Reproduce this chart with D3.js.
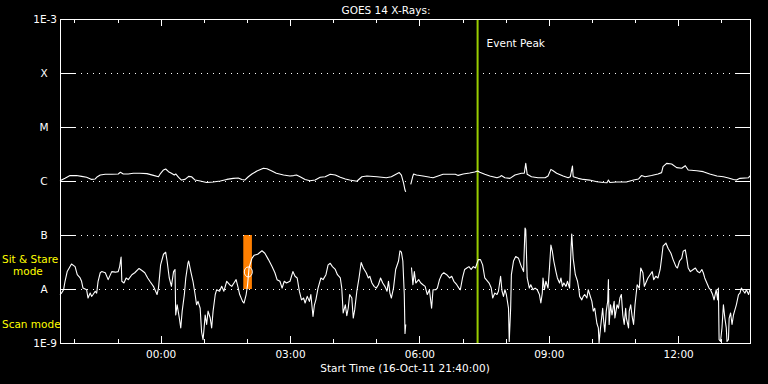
<!DOCTYPE html>
<html>
<head>
<meta charset="utf-8">
<script src="https://cdn.jsdelivr.net/npm/d3@7"></script>
<style>
  html, body { margin: 0; padding: 0; background: #000; }
  svg text { font-family: "DejaVu Sans", sans-serif; font-size: 10.5px; fill: #fff; }
</style>
</head>
<body>
<div id="output"></div>
<script>
// minutes after 16-Oct-11 21:40:00 UTC
const longTimes = [0, 7, 14, 23, 30, 37, 44, 49, 52, 56, 63, 72, 81, 84, 88, 95, 102, 111, 121, 130,
  137, 140, 144, 147, 151, 155, 159, 161, 165, 169, 174, 179, 183, 188, 195, 204, 213, 223, 232, 241,
  248, 253, 257, 262, 267, 274, 283, 288, 294, 301, 311, 320, 325, 329, 334, 341, 348, 355, 362, 369,
  376, 383, 390, 397, 403, 413, 420, 427, 441, 454, 461, 472, 475, 478, 480, 481, 485, 488, 491, 492,
  496, 505, 515, 519, 526, 533, 543, 550, 554, 561, 570, 577, 581, 584, 591, 598, 608, 612, 614, 619,
  626, 633, 642, 646, 648, 650, 656, 665, 675, 679, 683, 686, 691, 700, 707, 710, 713, 714, 721, 728,
  737, 747, 756, 761, 763, 765, 774, 788, 798, 805, 809, 814, 823, 832, 837, 839, 844, 851, 858, 865,
  870, 874, 886, 895, 904, 914, 923, 930, 937, 941, 946, 958, 960];
// 1-8 A flux, W/m2 (null = data gap)
const longFlux = [1.01e-6, 1.12e-6, 1.26e-6, 1.26e-6, 1.22e-6, 1.17e-6, 1.07e-6, 1.09e-6, 1.20e-6, 1.29e-6,
  1.33e-6, 1.33e-6, 1.35e-6, 1.45e-6, 1.35e-6, 1.35e-6, 1.39e-6, 1.39e-6, 1.37e-6, 1.27e-6,
  1.20e-6, 1.39e-6, 1.60e-6, 1.67e-6, 1.49e-6, 1.39e-6, 1.29e-6, 1.35e-6, 1.17e-6, 1.04e-6,
  1.07e-6, 1.22e-6, 1.20e-6, 1.04e-6, 1.00e-6, 0.94e-6, 0.96e-6, 1.00e-6, 1.07e-6, 1.12e-6,
  1.14e-6, 1.07e-6, 1.04e-6, 1.20e-6, 1.35e-6, 1.53e-6, 1.72e-6, 1.69e-6, 1.55e-6, 1.39e-6,
  1.29e-6, 1.24e-6, 1.26e-6, 1.29e-6, 1.20e-6, 1.07e-6, 1.01e-6, 1.04e-6, 1.17e-6, 1.20e-6,
  1.33e-6, 1.29e-6, 1.17e-6, 1.09e-6, 1.04e-6, 0.99e-6, 1.20e-6, 1.24e-6, 1.20e-6, 1.15e-6,
  1.20e-6, 1.43e-6, 1.29e-6, 0.91e-6, 0.68e-6, 0.63e-6, null, 0.87e-6, 1.24e-6, 1.35e-6,
  1.29e-6, 1.24e-6, 1.17e-6, 1.15e-6, 1.24e-6, 1.33e-6, 1.33e-6, 1.33e-6, 1.27e-6, 1.35e-6,
  1.41e-6, 1.47e-6, 1.53e-6, 1.45e-6, 1.33e-6, 1.24e-6, 1.15e-6, 1.20e-6, 1.26e-6, 1.15e-6,
  1.12e-6, 1.29e-6, 1.39e-6, 1.39e-6, 2.12e-6, 1.33e-6, 1.20e-6, 1.15e-6, 1.15e-6, 1.24e-6,
  1.64e-6, 1.55e-6, 1.39e-6, 1.24e-6, 1.15e-6, 1.20e-6, 1.90e-6, 1.20e-6, 1.12e-6, 1.07e-6,
  1.04e-6, 0.97e-6, 0.94e-6, 0.93e-6, 1.04e-6, 0.94e-6, 0.96e-6, 0.96e-6, 1.04e-6, 1.09e-6,
  1.26e-6, 1.20e-6, 1.26e-6, 1.35e-6, 1.43e-6, 1.84e-6, 2.12e-6, 2.06e-6, 1.77e-6, 1.72e-6,
  1.92e-6, 1.60e-6, 1.55e-6, 1.49e-6, 1.35e-6, 1.24e-6, 1.20e-6, 1.14e-6, 1.07e-6, 1.04e-6,
  1.12e-6, 1.15e-6, 1.24e-6];

const shortTimes = [0, 2, 5, 7, 10, 16, 21, 24, 28, 30, 32, 37, 39, 42, 44, 46, 49, 51, 53, 56,
  58, 63, 67, 72, 77, 81, 83, 85, 86, 89, 92, 95, 100, 104, 110, 114, 118, 122, 125, 130,
  135, 137, 140, 144, 147, 149, 152, 155, 158, 160, 161, 163, 166, 168, 170, 173, 175, 178, 179, 182,
  185, 188, 190, 192, 195, 197, 199, 200, 202, 204, 206, 209, 211, 213, 216, 218, 222, 225, 228, 232,
  236, 239, 242, 245, 248, 250, 254, 256, 259, 261, 263, 267, 270, 275, 281, 285, 290, 295, 299, 302,
  306, 309, 312, 315, 320, 324, 327, 330, 333, 336, 339, 341, 344, 347, 349, 352, 354, 356, 359, 363,
  366, 370, 373, 376, 379, 383, 386, 390, 392, 394, 397, 399, 401, 403, 406, 408, 410, 413, 416, 419,
  422, 426, 429, 431, 434, 437, 440, 443, 446, 449, 452, 455, 457, 459, 461, 464, 467, 471, 473, 475,
  477, 479, 480, 481, 485, 489, 491, 493, 495, 499, 502, 505, 508, 511, 514, 517, 519, 523, 525, 528,
  531, 534, 538, 542, 545, 548, 552, 555, 557, 560, 563, 566, 569, 572, 575, 578, 582, 585, 588, 591,
  595, 597, 600, 602, 605, 608, 610, 613, 615, 617, 619, 621, 624, 625, 627, 628, 631, 634, 638, 641,
  642, 645, 646, 647, 648, 650, 653, 655, 658, 661, 664, 667, 669, 671, 672, 674, 676, 679, 681, 683,
  685, 687, 690, 692, 695, 697, 699, 701, 704, 706, 709, 711, 712, 714, 717, 720, 722, 723, 726, 728,
  730, 733, 735, 737, 740, 742, 744, 747, 749, 750, 752, 755, 756, 758, 760, 762, 763, 764, 766, 768,
  771, 772, 775, 777, 779, 781, 783, 785, 787, 788, 791, 792, 794, 796, 798, 800, 801, 803, 806, 808,
  811, 813, 815, 818, 821, 824, 826, 829, 832, 835, 837, 839, 843, 846, 850, 853, 857, 859, 862, 865,
  867, 870, 872, 874, 877, 881, 884, 887, 890, 893, 895, 897, 901, 903, 905, 908, 910, 913, 915, 916,
  917, 919, 921, 923, 925, 927, 928, 930, 931, 933, 935, 937, 939, 941, 944, 946, 948, 951, 953, 955,
  958, 960];
// 0.5-4 A flux, W/m2 (null = data gap)
const shortFlux = [7.9e-9, 8.4e-9, 9.7e-9, 1.39e-8, 2.1e-8, 2.9e-8, 2.6e-8, 1.84e-8, 1.6e-8, 1.39e-8,
  1.04e-8, 9.7e-9, 6.8e-9, 8.4e-9, 7.3e-9, 7.9e-9, 9.1e-9, 8.4e-9, 1.39e-8, 2.0e-8,
  2.1e-8, 2.0e-8, 1.49e-8, 2.1e-8, 2.05e-8, 2.1e-8, 2.6e-8, 3.9e-8, 1.39e-8, 1.29e-8,
  1.6e-8, 1.49e-8, 1.84e-8, 2.0e-8, 2.4e-8, 2.2e-8, 2.0e-8, 1.6e-8, 1.39e-8, 1.12e-8,
  7.9e-9, 1.04e-8, 2.8e-8, 4.4e-8, 4.8e-8, 3.3e-8, 1.6e-8, 1.12e-8, 2.1e-8, 2.3e-8,
  3.3e-9, 5.1e-9, 2.9e-9, 1.9e-9, 3.9e-9, 7.9e-9, 1.6e-8, 3.0e-8, 3.3e-8, 2.1e-8,
  1.39e-8, 7.9e-9, 5.1e-9, 5.9e-9, 4.4e-9, 1.6e-9, 1.15e-9, 1.6e-9, 3.3e-9, 2.2e-9,
  3.9e-9, 2.9e-9, 1.9e-9, 3.9e-9, 7.9e-9, 9.7e-9, 9.1e-9, 1.12e-8, 9.1e-9, 1.39e-8,
  1.2e-8, 1.12e-8, 1.29e-8, 1.49e-8, 1.04e-8, 7.9e-9, 5.9e-9, 5.5e-9, 7.9e-9, 1.2e-8,
  2.45e-8, 3.7e-8, 4.2e-8, 4.4e-8, 5.1e-8, 4.6e-8, 3.5e-8, 2.6e-8, 2.0e-8, 1.49e-8,
  1.39e-8, 1.04e-8, 1.39e-8, 1.29e-8, 1.39e-8, 2.1e-8, 1.72e-8, 1.6e-8, 9.1e-9, 6.3e-9,
  6.8e-9, 5.5e-9, 7.3e-9, 5.9e-9, 7.9e-9, 3.1e-9, 5.1e-9, 6.3e-9, 1.04e-8, 1.6e-8,
  1.49e-8, 1.84e-8, 2.8e-8, 3.0e-8, 2.6e-8, 2.3e-8, 1.84e-8, 1.6e-8, 1.04e-8, 3.6e-9,
  5.1e-9, 3.2e-9, 4.4e-9, 7.9e-9, 6.8e-9, 2.9e-9, 4.1e-9, 9.1e-9, 1.6e-8, 3.1e-8,
  2.45e-8, 2.0e-8, 1.6e-8, 1.72e-8, 1.29e-8, 1.12e-8, 1.04e-8, 1.2e-8, 1.6e-8, 1.29e-8,
  1.12e-8, 9.1e-9, 1.39e-8, 8.4e-9, 6.8e-9, 1.04e-8, 2.3e-8, 3.3e-8, 5.1e-8, 4.8e-8,
  3.3e-8, 7.9e-9, 1.5e-9, 2.2e-9, null, 2.5e-8, 1.2e-8, 2.1e-8, 1.29e-8, 1.49e-8,
  1.29e-8, 1.2e-8, 1.12e-8, 7.9e-9, 9.7e-9, 4.4e-9, 9.7e-9, 9.7e-9, 1.04e-8, 1.49e-8,
  1.84e-8, 2.0e-8, 1.84e-8, 1.6e-8, 1.72e-8, 1.39e-8, 1.2e-8, 1.04e-8, 9.7e-9, 1.6e-8,
  2.3e-8, 2.45e-8, 2.6e-8, 2.3e-8, 2.6e-8, 2.45e-8, 3.5e-8, 3.5e-8, 2.8e-8, 1.6e-8,
  1.39e-8, 1.29e-8, 1.04e-8, 6.8e-9, 8.4e-9, 7.9e-9, 9.1e-9, 1.72e-8, 9.1e-9, 7.3e-9,
  9.7e-9, 7.9e-9, 4.4e-9, 1.07e-9, 4.4e-9, 1.84e-8, 3.3e-8, 4.0e-8, 3.7e-8, 2.8e-8,
  2.6e-8, 2.1e-8, 5.7e-8, 1.35e-7, 1.25e-7, 1.6e-8, 1.04e-8, 1.2e-8, 9.7e-9, 1.04e-8,
  9.7e-9, 7.9e-9, 5.5e-9, 8.4e-9, 1.6e-8, 9.7e-9, 1.39e-8, 1.04e-8, 2.45e-8, 6.5e-8,
  5.0e-8, 3.3e-8, 2.1e-8, 1.6e-8, 1.29e-8, 1.6e-8, 1.12e-8, 1.29e-8, 1.12e-8, 1.39e-8,
  1.04e-8, 5.7e-8, 1.04e-7, 3.7e-8, 1.84e-8, 1.39e-8, 9.7e-9, 7.3e-9, 6.3e-9, 7.3e-9,
  7.9e-9, 6.8e-9, 9.7e-9, 7.9e-9, 5.9e-9, 3.9e-9, 4.4e-9, 2.3e-9, 1.9e-9, 1.0e-9,
  1.9e-9, 4.4e-9, 2.9e-9, 1.6e-9, 3.9e-9, 5.9e-9, 1.49e-8, 2.2e-9, 5.1e-9, 3.3e-9,
  5.9e-9, 2.9e-9, 5.1e-9, 4.4e-9, 6.8e-9, 7.9e-9, 3.3e-9, 2.2e-9, 4.4e-9, 2.9e-9,
  1.9e-9, 3.9e-9, 5.1e-9, 3.1e-9, 2.2e-9, 5.1e-9, 6.8e-9, 1.2e-8, 1.04e-8, 2.45e-8,
  2.0e-8, 1.12e-8, 1.29e-8, 1.6e-8, 1.84e-8, 2.1e-8, 1.49e-8, 1.72e-8, 1.6e-8, 2.3e-8,
  3.7e-8, 6.2e-8, 7.1e-8, 5.7e-8, 4.6e-8, 3.5e-8, 2.6e-8, 2.45e-8, 3.3e-8, 3.7e-8,
  5.0e-8, 5.3e-8, 3.7e-8, 2.45e-8, 2.1e-8, 2.3e-8, 2.45e-8, 2.1e-8, 2.0e-8, 2.3e-8,
  2.0e-8, 1.6e-8, 1.2e-8, 1.04e-8, 9.7e-9, 7.9e-9, 6.3e-9, 9.7e-9, 6.3e-9, 1.04e-8,
  1.15e-9, 1.07e-9, 1.9e-9, 5.1e-9, 2.9e-9, 1.9e-9, 1.07e-9, 1.15e-9, 2.9e-9, 3.6e-9,
  2.2e-9, 3.3e-9, 4.1e-9, 5.1e-9, 7.9e-9, 8.4e-9, 1.04e-8, 9.1e-9, 8.4e-9, 9.7e-9,
  7.9e-9, 9.7e-9];

// flare class levels on the y axis
const levelValues = [1e-9, 1e-8, 1e-7, 1e-6, 1e-5, 1e-4, 1e-3];
const levelLabels = ["1E-9", "A", "B", "C", "M", "X", "1E-3"];

// event peak and sit & stare window (minutes after start)
const eventPeak = 581;
const sitStare = { start: 255, end: 267, low: 1e-8, high: 1e-7 };
const marker = { time: 262, flux: 2.07e-8 };

const W = 768, H = 384;
const margin = { top: 19, right: 18, bottom: 41, left: 60 };
const startTime = Date.UTC(2011, 9, 16, 21, 40);
const toDate = m => new Date(startTime + m * 60000);

const svg = d3.select("#output").append("svg")
  .attr("width", W)
  .attr("height", H)
  .style("display", "block")
  .style("background", "#000");

const x = d3.scaleUtc()
  .domain([toDate(0), toDate(960)])
  .range([margin.left, W - margin.right]);

const y = d3.scaleLog()
  .domain([1e-9, 1e-3])
  .range([H - margin.bottom, margin.top]);

const [x0, x1] = x.range();
const [yb, yt] = y.range();

// sit & stare window
svg.append("rect")
  .attr("x", x(toDate(sitStare.start)))
  .attr("y", y(sitStare.high))
  .attr("width", x(toDate(sitStare.end)) - x(toDate(sitStare.start)))
  .attr("height", y(sitStare.low) - y(sitStare.high))
  .attr("fill", "#ff7f00");

// dotted level lines
svg.append("g")
  .selectAll("line")
  .data(levelValues.slice(1, -1))
  .enter().append("line")
  .attr("x1", x0 + 15)
  .attr("x2", x1 - 15)
  .attr("y1", d => Math.round(y(d)) + 0.5)
  .attr("y2", d => Math.round(y(d)) + 0.5)
  .attr("stroke", "#fff")
  .attr("stroke-dasharray", "1,5");

// event peak line
svg.append("line")
  .attr("x1", x(toDate(eventPeak)))
  .attr("x2", x(toDate(eventPeak)))
  .attr("y1", yt)
  .attr("y2", yb)
  .attr("stroke", "#99cc00")
  .attr("stroke-width", 2);

svg.append("text")
  .attr("x", x(toDate(eventPeak)) + 9)
  .attr("y", 47)
  .text("Event Peak");

// curves
const line = d3.line()
  .defined(d => d.v != null)
  .x(d => x(toDate(d.t)))
  .y(d => y(d.v));

[[longTimes, longFlux], [shortTimes, shortFlux]].forEach(([ts, vs]) => {
  svg.append("path")
    .datum(ts.map((t, i) => ({ t: t, v: vs[i] })))
    .attr("fill", "none")
    .attr("stroke", "#fff")
    .attr("stroke-width", 1.1)
    .attr("stroke-linejoin", "round")
    .attr("d", line);
});

svg.append("ellipse")
  .attr("cx", x(toDate(marker.time)))
  .attr("cy", y(marker.flux))
  .attr("rx", 4)
  .attr("ry", 5)
  .attr("fill", "none")
  .attr("stroke", "#fff");

// x axes: minor hourly ticks, labelled 3-hourly ticks
const fmt = d3.utcFormat("%H:%M");
const styleAxis = g => {
  g.select(".domain").remove();
  g.selectAll("line").attr("stroke", "#fff").attr("shape-rendering", "crispEdges");
  g.selectAll("text").attr("fill", "#fff").style("font-size", "10.5px");
};

svg.append("g")
  .attr("transform", `translate(0,${yb})`)
  .call(d3.axisBottom(x).ticks(d3.utcHour.every(1)).tickSize(-4).tickFormat(""))
  .call(styleAxis);
svg.append("g")
  .attr("transform", `translate(0,${yb})`)
  .call(d3.axisBottom(x).ticks(d3.utcHour.every(3)).tickSize(-7).tickPadding(8).tickFormat(fmt))
  .call(styleAxis);
svg.append("g")
  .attr("transform", `translate(0,${yt})`)
  .call(d3.axisTop(x).ticks(d3.utcHour.every(1)).tickSize(-4).tickFormat(""))
  .call(styleAxis);
svg.append("g")
  .attr("transform", `translate(0,${yt})`)
  .call(d3.axisTop(x).ticks(d3.utcHour.every(3)).tickSize(-7).tickFormat(""))
  .call(styleAxis);

// y axes
const yLeft = svg.append("g")
  .attr("transform", `translate(${x0},0)`)
  .call(d3.axisLeft(y).tickValues(levelValues).tickSize(-15).tickPadding(3)
    .tickFormat((d, i) => levelLabels[i]))
  .call(styleAxis);
yLeft.selectAll(".tick text")
  .filter(d => d !== 1e-9 && d !== 1e-3)
  .attr("text-anchor", "middle")
  .attr("x", -16);
svg.append("g")
  .attr("transform", `translate(${x1},0)`)
  .call(d3.axisRight(y).tickValues(levelValues).tickSize(-15).tickFormat(""))
  .call(styleAxis);

// frame
svg.append("rect")
  .attr("x", x0 + 0.5)
  .attr("y", yt + 0.5)
  .attr("width", x1 - x0)
  .attr("height", yb - yt)
  .attr("fill", "none")
  .attr("stroke", "#fff");

// titles
svg.append("text")
  .attr("x", 386)
  .attr("y", 14)
  .attr("text-anchor", "middle")
  .text("GOES 14 X-Rays:");

svg.append("text")
  .attr("x", 405)
  .attr("y", 372)
  .attr("text-anchor", "middle")
  .text("Start Time (16-Oct-11 21:40:00)");

// mode labels
svg.append("text").attr("x", 2).attr("y", 263).attr("fill", "#ffff00").style("fill", "#ffff00").text("Sit & Stare");
svg.append("text").attr("x", 13).attr("y", 275).style("fill", "#ffff00").text("mode");
svg.append("text").attr("x", 2).attr("y", 328).style("fill", "#ffff00").text("Scan mode");
</script>
</body>
</html>
